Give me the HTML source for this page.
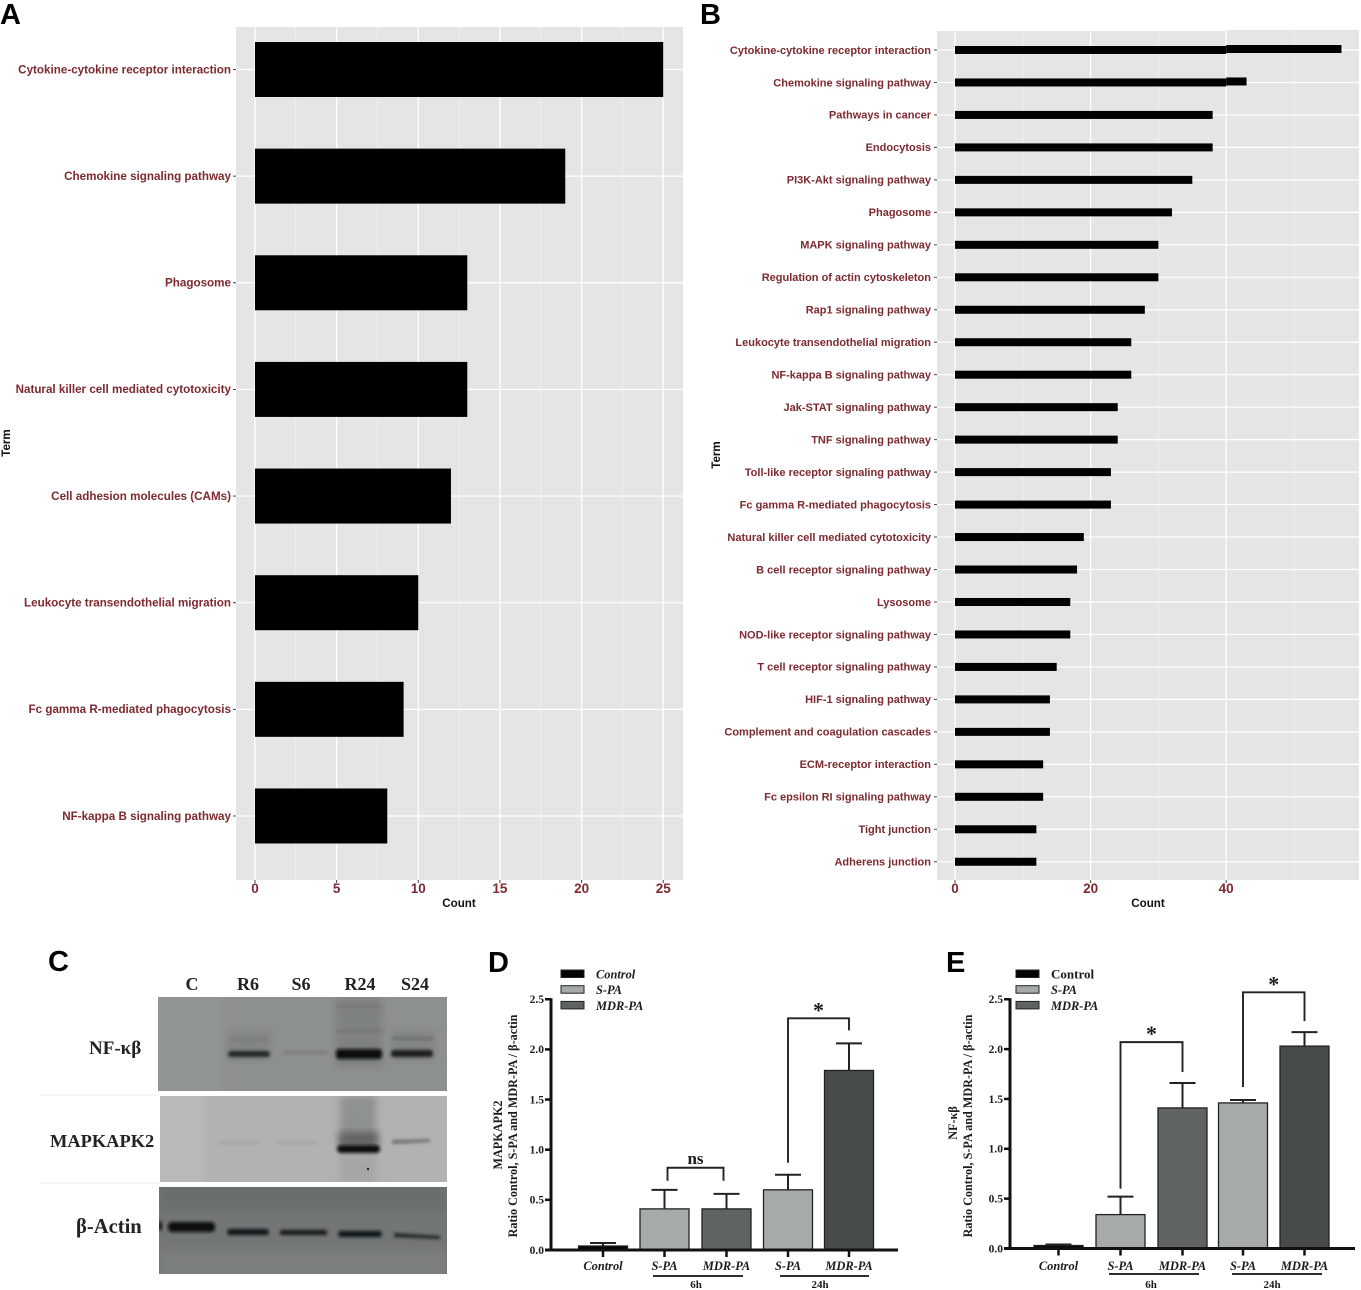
<!DOCTYPE html>
<html lang="en">
<head>
<meta charset="utf-8">
<title>KEGG enrichment and western blot figure</title>
<style>
html,body{margin:0;padding:0;background:#fff;width:1361px;height:1290px;overflow:hidden}
svg{display:block;position:absolute;left:0;top:0;filter:blur(.35px)}
.letter{font:bold 29px "Liberation Sans",sans-serif;fill:#000}
.term{font:bold 11.65px "Liberation Sans",sans-serif;fill:#7d2a30;text-anchor:end}
.term-b{font-size:11px}
.count-tick{font:bold 13.5px "Liberation Sans",sans-serif;fill:#7d2a30;text-anchor:middle}
.axis-title{font:bold 11.6px "Liberation Sans",sans-serif;fill:#111}
.serif-b{font:bold 11px "Liberation Serif",serif;fill:#1c1c1c}
.serif-t{font:bold 12.2px "Liberation Serif",serif;fill:#1c1c1c}
.serif-i{font:italic bold 12.4px "Liberation Serif",serif;fill:#1c1c1c}
.blot-label{font:bold 19px "Liberation Serif",serif;fill:#222}
</style>
</head>
<body>
<svg id="fig" xmlns="http://www.w3.org/2000/svg" width="1361" height="1290" viewBox="0 0 1361 1290">
<defs>
<filter id="b1" x="-30%" y="-100%" width="160%" height="300%"><feGaussianBlur stdDeviation="1.5"/></filter>
<filter id="b2" x="-30%" y="-150%" width="160%" height="400%"><feGaussianBlur stdDeviation="2.4"/></filter>
<filter id="b3" x="-30%" y="-30%" width="160%" height="160%"><feGaussianBlur stdDeviation="4"/></filter>
<clipPath id="clip1"><rect x="158" y="997" width="289" height="94"/></clipPath>
<clipPath id="clip2"><rect x="160" y="1096" width="287" height="86"/></clipPath>
<clipPath id="clip3"><rect x="159" y="1187" width="288" height="87"/></clipPath>
</defs>
<rect width="1361" height="1290" fill="#fff"/>
<g id="panelA"></g>
<g id="panelB"></g>

<g>
  <text class="letter" x="48" y="971">C</text>
  <g font-family="Liberation Serif, serif" font-weight="bold" font-size="18" fill="#222" text-anchor="middle">
    <text x="192" y="990">C</text>
    <text x="248" y="990">R6</text>
    <text x="301" y="990">S6</text>
    <text x="360" y="990">R24</text>
    <text x="415" y="990">S24</text>
  </g>
  <text class="blot-label" x="89" y="1054">NF-κβ</text>
  <text class="blot-label" x="50" y="1147" style="font-size:18.4px">MAPKAPK2</text>
  <text class="blot-label" x="76" y="1233" style="font-size:20.6px">β-Actin</text>
  <line x1="40" x2="158" y1="1095" y2="1095" stroke="#eee"/>
  <line x1="40" x2="160" y1="1183" y2="1183" stroke="#eee"/>

  <g clip-path="url(#clip1)">
    <rect x="158" y="997" width="289" height="94" fill="#8d9090"/>
    <rect x="150" y="990" width="70" height="110" fill="#929595" filter="url(#b3)"/>
    <rect x="228" y="1030" width="42" height="30" fill="#828585" filter="url(#b3)"/>
    <rect x="336" y="997" width="46" height="70" fill="#7e8181" filter="url(#b3)"/>
    <rect x="392" y="1030" width="42" height="30" fill="#828585" filter="url(#b3)"/>
    <rect x="336" y="1005" width="46" height="2" fill="#737676" filter="url(#b1)"/>
    <rect x="336" y="1030" width="46" height="2" fill="#6f7272" filter="url(#b1)"/>
    <rect x="392" y="1037" width="42" height="3" fill="#6c6f6f" filter="url(#b1)"/>
    <rect x="230" y="1038" width="38" height="3" fill="#797c7c" filter="url(#b1)"/>
    <rect x="228" y="1051" width="42" height="6" rx="3" fill="#232525" filter="url(#b1)"/>
    <rect x="283" y="1051" width="44" height="3" fill="#787b7b" filter="url(#b1)"/>
    <rect x="336" y="1049" width="46" height="10" rx="3" fill="#0a0b0b" filter="url(#b1)"/>
    <rect x="391" y="1050" width="42" height="7" rx="3" fill="#1a1c1c" filter="url(#b1)"/>
  </g>

  <g clip-path="url(#clip2)">
    <rect x="160" y="1096" width="287" height="86" fill="#b1b3b2"/>
    <rect x="155" y="1090" width="50" height="100" fill="#b8baba" filter="url(#b3)"/>
    <rect x="340" y="1096" width="36" height="50" fill="#8e9191" filter="url(#b3)"/>
    <rect x="339" y="1132" width="39" height="14" fill="#606363" filter="url(#b3)"/>
    <rect x="340" y="1156" width="36" height="26" fill="#a4a6a6" filter="url(#b3)"/>
    <rect x="218" y="1141" width="40" height="3" fill="#a3a5a5" filter="url(#b1)"/>
    <rect x="278" y="1141" width="40" height="3" fill="#a3a5a5" filter="url(#b1)"/>
    <rect x="337" y="1145" width="43" height="8" rx="4" fill="#0a0b0b" filter="url(#b1)"/>
    <polygon points="392,1140 430,1139 430,1142 392,1144" fill="#6e7171" filter="url(#b1)"/>
    <circle cx="368" cy="1169" r="1.2" fill="#222"/>
  </g>

  <g clip-path="url(#clip3)">
    <rect x="159" y="1187" width="288" height="87" fill="#737676"/>
    <rect x="159" y="1180" width="288" height="30" fill="#6b6e6e" filter="url(#b3)"/>
    <rect x="159" y="1250" width="288" height="30" fill="#7c7f7f" filter="url(#b3)"/>
    <ellipse cx="160" cy="1226" rx="2.5" ry="5" fill="#1c1c1c" filter="url(#b1)"/>
    <rect x="168" y="1222" width="47" height="10" rx="4" fill="#0a0b0b" filter="url(#b1)"/>
    <rect x="227" y="1229" width="42" height="6" rx="3" fill="#111313" filter="url(#b1)"/>
    <rect x="280" y="1230" width="47" height="5" rx="2" fill="#161818" filter="url(#b1)"/>
    <rect x="338" y="1231" width="44" height="6" rx="3" fill="#111313" filter="url(#b1)"/>
    <polygon points="394,1233 440,1236 440,1239 394,1237" fill="#1f2121" filter="url(#b1)"/>
  </g>
</g>

<g id="panelD"></g>
<g id="panelE"></g>
</svg>

<script>
// ---- Panel A data ----
var termsA = ["Cytokine-cytokine receptor interaction","Chemokine signaling pathway","Phagosome","Natural killer cell mediated cytotoxicity","Cell adhesion molecules (CAMs)","Leukocyte transendothelial migration","Fc gamma R-mediated phagocytosis","NF-kappa B signaling pathway"];
var countsA = [25,19,13,13,12,10,9.1,8.1];
var ticksA = [0,5,10,15,20,25];
var minorTicksA = [2.5,7.5,12.5,17.5,22.5];

// ---- Panel B data ----
var termsB = ["Cytokine-cytokine receptor interaction","Chemokine signaling pathway","Pathways in cancer","Endocytosis","PI3K-Akt signaling pathway","Phagosome","MAPK signaling pathway","Regulation of actin cytoskeleton","Rap1 signaling pathway","Leukocyte transendothelial migration","NF-kappa B signaling pathway","Jak-STAT signaling pathway","TNF signaling pathway","Toll-like receptor signaling pathway","Fc gamma R-mediated phagocytosis","Natural killer cell mediated cytotoxicity","B cell receptor signaling pathway","Lysosome","NOD-like receptor signaling pathway","T cell receptor signaling pathway","HIF-1 signaling pathway","Complement and coagulation cascades","ECM-receptor interaction","Fc epsilon RI signaling pathway","Tight junction","Adherens junction"];
var countsB = [57,43,38,38,35,32,30,30,28,26,26,24,24,23,23,19,18,17,17,15,14,14,13,13,12,12];
var ticksB = [0,20,40];
var gridB = [10,30,50];

// ---- Panel D data ----
var groupLabels = ["Control","S-PA","MDR-PA","S-PA","MDR-PA"];
var valuesD = [0.04,0.41,0.41,0.60,1.79];
var errorTopD = [0.07,0.60,0.56,0.75,2.06];
var bracketD = [
  {from:1, to:2, top:0.82, leftEnd:0.69, rightEnd:0.69, label:"ns"},
  {from:3, to:4, top:2.31, leftEnd:0.87, rightEnd:2.19, label:"*"}
];

// ---- Panel E data ----
var valuesE = [0.03,0.34,1.41,1.46,2.03];
var errorTopE = [0.04,0.52,1.66,1.49,2.17];
var bracketE = [
  {from:1, to:2, top:2.07, leftEnd:0.60, rightEnd:1.77, label:"*"},
  {from:3, to:4, top:2.57, leftEnd:1.62, rightEnd:2.28, label:"*"}
];

var yTicks = [0,0.5,1,1.5,2,2.5];
var barFills = ["#050505","#a7aaaa","#5f6364","#a7aaaa","#474b4c"];

var NS = "http://www.w3.org/2000/svg";
function el(parent, tag, attrs, text) {
  var n = document.createElementNS(NS, tag);
  for (var k in attrs) n.setAttribute(k, attrs[k]);
  if (text !== undefined) n.textContent = text;
  parent.appendChild(n);
  return n;
}
function slug(s) {
  return s.toLowerCase().replace(/[^a-z0-9]+/g, "-").replace(/^-|-$/g, "");
}

function drawCountChart(cfg) {
  var g = document.getElementById(cfg.id);
  var xScale = function (v) { return cfg.x0 + v * cfg.pxPerUnit; };
  var yScale = function (i) { return cfg.firstY + i * cfg.step; };

  var letter = el(g, "text", {"class":"letter", x:cfg.letterX, y:24}, cfg.letter);
  
  

  var bg = el(g, "rect", {x:cfg.left, y:cfg.top, width:cfg.right-cfg.left, height:cfg.bottom-cfg.top, fill:"#e4e5e4"});
  
  
  if (cfg.seam !== undefined) {
    var strip = el(g, "rect", {x:xScale(cfg.seam), y:cfg.top-1, width:cfg.right-xScale(cfg.seam), height:1, fill:"#e4e5e4"});
    
    
  }

  cfg.minor.forEach(function (v) {
    var m = el(g, "line", {x1:xScale(v), x2:xScale(v), y1:cfg.top, y2:cfg.bottom, stroke:"#f3f3f3", "stroke-width":0.8});
    
    
  });
  cfg.major.forEach(function (v) {
    var m = el(g, "line", {x1:xScale(v), x2:xScale(v), y1:cfg.top, y2:cfg.bottom, stroke:"#fff", "stroke-width":1.3});
    
    
  });

  cfg.terms.forEach(function (term, i) {
    var y = yScale(i);
    var h = el(g, "line", {x1:cfg.left, x2:cfg.right, y1:y, y2:y, stroke:"#fff", "stroke-width":1.2});
    
    

    var count = cfg.counts[i];
    var seam = cfg.seam !== undefined && count > cfg.seam;
    var main = el(g, "rect", {x:xScale(0), y:y-cfg.barH/2, width:xScale(seam ? cfg.seam : count)-xScale(0), height:cfg.barH, fill:"#000"});
    
    
    if (seam) {
      var extra = el(g, "rect", {x:xScale(cfg.seam), y:y-cfg.barH/2-1, width:xScale(count)-xScale(cfg.seam), height:cfg.barH, fill:"#000"});
      
      
    }

    var tick = el(g, "line", {x1:cfg.left-3, x2:cfg.left, y1:y, y2:y, stroke:"#444", "stroke-width":1});
    
    

    var label = el(g, "text", {"class":cfg.termClass, x:cfg.left-cfg.labelGap, y:y+3.8}, term);
    
    
  });

  cfg.ticks.forEach(function (v) {
    var t = el(g, "line", {x1:xScale(v), x2:xScale(v), y1:cfg.bottom, y2:cfg.bottom+3, stroke:"#444", "stroke-width":1});
    
    
    var l = el(g, "text", {"class":"count-tick", x:xScale(v), y:cfg.bottom+13}, v);
    
    
  });

  var xt = el(g, "text", {"class":"axis-title", x:cfg.countX, y:907, "text-anchor":"middle"}, "Count");
  
  
  var yt = el(g, "text", {"class":"axis-title", transform:"translate("+cfg.termX+","+cfg.termY+") rotate(-90)", "text-anchor":"middle"}, "Term");
  
  
}

function drawGroupedChart(cfg) {
  var g = document.getElementById(cfg.id);
  var yScale = function (v) { return cfg.y0 - v * cfg.pxPerUnit; };
  var barW = 49;

  var letter = el(g, "text", {"class":"letter", x:cfg.letterX, y:972}, cfg.letter);
  
  

  // legend
  cfg.legend.forEach(function (item, i) {
    var sy = 970 + i * 15.7;
    var sw = el(g, "rect", {x:cfg.legendX, y:sy, width:23, height:7.5, fill:item.fill, stroke:"#222", "stroke-width":1});
    
    
    var tx = el(g, "text", {"class":item.plain ? "serif-b" : "serif-i", x:cfg.legendTextX, y:sy+8.5}, item.label);
    if (item.plain) tx.setAttribute("style", "font-size:13px");
    
    
  });

  // bars and error bars
  groupLabels.forEach(function (lab, i) {
    var cx = cfg.centers[i];
    var y = yScale(cfg.values[i]);
    var et = yScale(cfg.errorTop[i]);
    var stem = el(g, "line", {x1:cx, x2:cx, y1:y, y2:et, stroke:"#222", "stroke-width":2});
    
    
    var cap = el(g, "line", {x1:cx-13, x2:cx+13, y1:et, y2:et, stroke:"#222", "stroke-width":2});
    
    
    var bar = el(g, "rect", {x:cx-barW/2, y:y, width:barW, height:cfg.y0-y, fill:barFills[i], stroke:"#222", "stroke-width":1.3});
    
    
    var tick = el(g, "line", {x1:cx, x2:cx, y1:cfg.y0, y2:cfg.y0+7, stroke:"#111", "stroke-width":2.5});
    
    
    var tl = el(g, "text", {"class":"serif-i", x:cx, y:1270, "text-anchor":"middle"}, lab);
    
    
  });

  // brackets
  cfg.brackets.forEach(function (b) {
    var x1 = cfg.centers[b.from] + (b.from === 1 ? cfg.bracketInset[0] : 0);
    var x2 = cfg.centers[b.to] + (b.to === 2 ? cfg.bracketInset[1] : 0);
    var pts = x1+","+yScale(b.leftEnd)+" "+x1+","+yScale(b.top)+" "+x2+","+yScale(b.top)+" "+x2+","+yScale(b.rightEnd);
    var p = el(g, "polyline", {points:pts, fill:"none", stroke:"#222", "stroke-width":1.9});
    
    
    var isStar = b.label === "*";
    var s = el(g, "text", {x:(x1+x2)/2, y:yScale(b.top)+(isStar ? -1 : -4), "text-anchor":"middle", "font-family":"Liberation Serif, serif", "font-weight":"bold", "font-size":isStar ? 22 : 17, fill:"#1c1c1c"}, b.label);
    
    
  });

  // axes
  var ya = el(g, "line", {x1:cfg.axisX, x2:cfg.axisX, y1:yScale(2.5)-1, y2:cfg.y0+1.5, stroke:"#111", "stroke-width":3});
  
  
  var xa = el(g, "line", {x1:cfg.axisX-6, x2:cfg.axisEnd, y1:cfg.y0, y2:cfg.y0, stroke:"#111", "stroke-width":3});
  
  

  yTicks.forEach(function (v) {
    var t = el(g, "line", {x1:cfg.axisX-6, x2:cfg.axisX, y1:yScale(v), y2:yScale(v), stroke:"#111", "stroke-width":2.5});
    
    
    var l = el(g, "text", {"class":"serif-b", x:cfg.axisX-7, y:yScale(v)+3.8, "text-anchor":"end", style:"font-size:11.5px"}, v.toFixed(1));
    
    
  });

  // time groups
  cfg.groups.forEach(function (tg) {
    var u = el(g, "line", {x1:tg.x1, x2:tg.x2, y1:cfg.groupLineY, y2:cfg.groupLineY, stroke:"#111", "stroke-width":1.8});
    
    
    var l = el(g, "text", {"class":"serif-b", x:tg.labelX, y:1288, "text-anchor":"middle"}, tg.label);
    
    
  });

  // y titles
  var t1 = el(g, "text", {"class":"serif-t", transform:"translate("+cfg.title1X+","+cfg.title1Y+") rotate(-90)", "text-anchor":"middle"}, cfg.title1);
  
  
  var t2 = el(g, "text", {"class":"serif-t", transform:"translate("+cfg.title2X+",1126) rotate(-90)", "text-anchor":"middle"}, "Ratio Control, S-PA and MDR-PA / β-actin");
  
  
}

drawCountChart({id:"panelA", letter:"A", letterX:0, terms:termsA, counts:countsA, ticks:ticksA, major:ticksA, minor:minorTicksA,
  x0:255, pxPerUnit:16.33, firstY:69.5, step:106.64, barH:55, left:236, right:683, top:27, bottom:880, labelGap:5,
  termClass:"term", countX:459, termX:10, termY:443});
drawCountChart({id:"panelB", letter:"B", letterX:700, terms:termsB, counts:countsB, ticks:ticksB, major:ticksB, minor:gridB,
  x0:955, pxPerUnit:6.78, firstY:50, step:32.47, barH:8, left:937, right:1359, top:31, bottom:880, seam:40, labelGap:6,
  termClass:"term term-b", countX:1148, termX:720, termY:455});
drawGroupedChart({id:"panelD", letter:"D", letterX:488, values:valuesD, errorTop:errorTopD, brackets:bracketD,
  centers:[603,664.5,726.5,788,849], y0:1250, pxPerUnit:100.3, axisX:551, axisEnd:898, bracketInset:[3,-3],
  legendX:561, legendTextX:596,
  legend:[{label:"Control",fill:"#050505"},{label:"S-PA",fill:"#a7aaaa"},{label:"MDR-PA",fill:"#5f6364"}],
  groups:[{x1:653,x2:743,labelX:696,label:"6h"},{x1:780,x2:869,labelX:820,label:"24h"}], groupLineY:1276,
  title1:"MAPKAPK2", title1X:502, title1Y:1135, title2X:517});
drawGroupedChart({id:"panelE", letter:"E", letterX:946, values:valuesE, errorTop:errorTopE, brackets:bracketE,
  centers:[1058.5,1120.5,1182.5,1243,1304.5], y0:1248.5, pxPerUnit:99.7, axisX:1010, axisEnd:1355, bracketInset:[0,0],
  legendX:1016, legendTextX:1051,
  legend:[{label:"Control",fill:"#050505",plain:true},{label:"S-PA",fill:"#a7aaaa"},{label:"MDR-PA",fill:"#5f6364"}],
  groups:[{x1:1109,x2:1199,labelX:1151,label:"6h"},{x1:1232,x2:1322,labelX:1272,label:"24h"}], groupLineY:1274,
  title1:"NF-κβ", title1X:957, title1Y:1123, title2X:972});
</script>
</body>
</html>
